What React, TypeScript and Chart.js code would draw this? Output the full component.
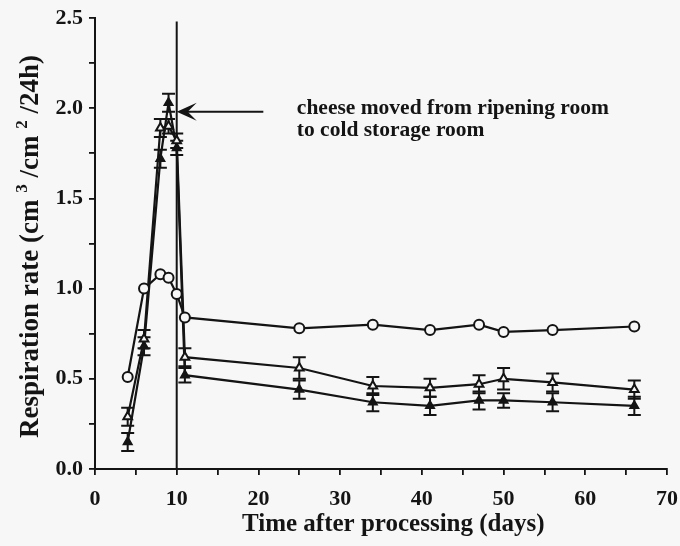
import React, { useEffect, useRef } from "react";
import { Chart, registerables } from "chart.js";

Chart.register(...registerables);

// ---- data ----
const days = [4, 6, 8, 9, 10, 11, 25, 34, 41, 47, 50, 56, 66];
const circleSeries = [0.51, 1.0, 1.08, 1.06, 0.97, 0.84, 0.78, 0.8, 0.77, 0.8, 0.76, 0.77, 0.79];
const openTriSeries = [0.29, 0.72, 1.89, 1.9, 1.82, 0.62, 0.56, 0.46, 0.45, 0.47, 0.5, 0.48, 0.44];
const openTriErr = [0.05, 0.05, 0.05, 0.04, 0.04, 0.05, 0.06, 0.05, 0.05, 0.05, 0.06, 0.05, 0.05];
const filledTriSeries = [0.15, 0.68, 1.72, 2.03, 1.78, 0.52, 0.44, 0.37, 0.35, 0.38, 0.38, 0.37, 0.35];
const filledTriErr = [0.05, 0.05, 0.05, 0.05, 0.04, 0.04, 0.05, 0.05, 0.05, 0.05, 0.04, 0.05, 0.05];

const xTickLabels = [0, 10, 20, 30, 40, 50, 60, 70];
const yTickLabels = [0.0, 0.5, 1.0, 1.5, 2.0, 2.5];

const transferDay = 10;
const transferLineTop = 2.48;
const annotationLines = ["cheese moved from ripening room", "to cold storage room"];
const arrowFrom = { x: 20.6, y: 1.98 };
const textAnchor = { x: 24.7, y: 2.0 };

const xTitle = "Time after processing (days)";
const xTitleCenterDay = 36.5;
// y title pieces: [text, isSuperscript]
const yTitleParts: [string, boolean][] = [
  ["Respiration rate (cm ", false],
  ["3", true],
  [" /cm ", false],
  ["2", true],
  [" /24h)", false],
];

const ink = "#141414";
const bg = "#f7f7f7";
const serif = "'Liberation Serif', 'DejaVu Serif', serif";

const overlayPlugin = {
  id: "overlay",
  beforeDraw(chart: any) {
    const { ctx, width, height } = chart;
    ctx.save();
    ctx.fillStyle = bg;
    ctx.fillRect(0, 0, width, height);
    ctx.restore();
  },
  beforeDatasetsDraw(chart: any) {
    const { ctx } = chart;
    const x = chart.scales.x;
    const y = chart.scales.y;
    ctx.save();
    ctx.strokeStyle = ink;
    ctx.lineWidth = 2;
    const vx = x.getPixelForValue(transferDay);
    ctx.beginPath();
    ctx.moveTo(vx, y.getPixelForValue(0));
    ctx.lineTo(vx, y.getPixelForValue(transferLineTop));
    ctx.stroke();

    const pairs: [number[], number[]][] = [
      [openTriSeries, openTriErr],
      [filledTriSeries, filledTriErr],
    ];
    pairs.forEach(([vals, errs]) => {
      vals.forEach((v, i) => {
        const px = x.getPixelForValue(days[i]);
        const top = y.getPixelForValue(v + errs[i]);
        const bot = y.getPixelForValue(v - errs[i]);
        ctx.beginPath();
        ctx.moveTo(px, top);
        ctx.lineTo(px, bot);
        ctx.moveTo(px - 6.5, top);
        ctx.lineTo(px + 6.5, top);
        ctx.moveTo(px - 6.5, bot);
        ctx.lineTo(px + 6.5, bot);
        ctx.stroke();
      });
    });
    ctx.restore();
  },
  afterDatasetsDraw(chart: any) {
    const { ctx, chartArea } = chart;
    const x = chart.scales.x;
    const y = chart.scales.y;
    ctx.save();
    ctx.strokeStyle = ink;
    ctx.fillStyle = ink;
    ctx.lineWidth = 2;
    const tipX = x.getPixelForValue(transferDay);
    const tipY = y.getPixelForValue(arrowFrom.y);
    const startX = x.getPixelForValue(arrowFrom.x);
    ctx.beginPath();
    ctx.moveTo(startX, tipY);
    ctx.lineTo(tipX + 8, tipY);
    ctx.stroke();
    ctx.beginPath();
    ctx.moveTo(tipX, tipY);
    ctx.lineTo(tipX + 20, tipY - 9);
    ctx.lineTo(tipX + 11, tipY);
    ctx.lineTo(tipX + 20, tipY + 9);
    ctx.closePath();
    ctx.fill();

    // annotation
    ctx.font = `bold 21.5px ${serif}`;
    ctx.textAlign = "left";
    ctx.textBaseline = "middle";
    const tx = x.getPixelForValue(textAnchor.x);
    const ty = y.getPixelForValue(textAnchor.y);
    annotationLines.forEach((line, i) => {
      ctx.fillText(line, tx, ty + i * 22);
    });

    // x title
    ctx.font = `bold 25px ${serif}`;
    ctx.textAlign = "center";
    ctx.textBaseline = "middle";
    ctx.fillText(xTitle, x.getPixelForValue(xTitleCenterDay), chartArea.bottom + 56);

    // y title (rotated, with superscripts)
    const mainFont = `bold 27px ${serif}`;
    const supFont = `bold 17px ${serif}`;
    let total = 0;
    const widths = yTitleParts.map(([t, sup]) => {
      ctx.font = sup ? supFont : mainFont;
      const w = ctx.measureText(t).width;
      total += w;
      return w;
    });
    ctx.translate(chartArea.left - 64, (chartArea.top + chartArea.bottom) / 2 + 3);
    ctx.rotate(-Math.PI / 2);
    ctx.textAlign = "left";
    ctx.textBaseline = "middle";
    let cur = -total / 2;
    yTitleParts.forEach(([t, sup], i) => {
      ctx.font = sup ? supFont : mainFont;
      ctx.fillText(t, cur, sup ? -8 : 0);
      cur += widths[i];
    });
    ctx.restore();
  },
};

export default function App() {
  const canvasRef = useRef<HTMLCanvasElement | null>(null);

  useEffect(() => {
    if (!canvasRef.current) return;
    const toPoints = (vals: number[]) => vals.map((v, i) => ({ x: days[i], y: v }));
    const chart = new Chart(canvasRef.current, {
      type: "scatter",
      data: {
        datasets: [
          {
            label: "circles",
            data: toPoints(circleSeries),
            showLine: true,
            borderColor: ink,
            borderWidth: 2.2,
            pointStyle: "circle",
            pointRadius: 5,
            pointBackgroundColor: bg,
            pointBorderColor: ink,
            pointBorderWidth: 2,
          },
          {
            label: "open triangles",
            data: toPoints(openTriSeries),
            showLine: true,
            borderColor: ink,
            borderWidth: 2.2,
            pointStyle: "triangle",
            pointRadius: 5,
            pointBackgroundColor: bg,
            pointBorderColor: ink,
            pointBorderWidth: 2,
          },
          {
            label: "filled triangles",
            data: toPoints(filledTriSeries),
            showLine: true,
            borderColor: ink,
            borderWidth: 2.2,
            pointStyle: "triangle",
            pointRadius: 5,
            pointBackgroundColor: ink,
            pointBorderColor: ink,
            pointBorderWidth: 1.5,
          },
        ],
      },
      options: {
        animation: false,
        responsive: true,
        maintainAspectRatio: false,
        layout: { padding: { top: 18, right: 13, left: 0, bottom: 0 } },
        plugins: {
          legend: { display: false },
          tooltip: { enabled: false },
        },
        scales: {
          x: {
            type: "linear",
            min: 0,
            max: 70,
            afterFit: (s: any) => {
              s.height = 77;
              s.paddingRight = 0;
              s.paddingLeft = 0;
            },
            ticks: {
              stepSize: 5,
              color: ink,
              padding: 11,
              maxRotation: 0,
              autoSkip: false,
              font: { family: serif, size: 22, weight: "bold" },
              callback: (v: any) => (xTickLabels.includes(Number(v)) ? String(v) : ""),
            },
            grid: {
              display: true,
              drawOnChartArea: false,
              drawTicks: true,
              tickLength: 6,
              color: ink,
              lineWidth: 1.8,
            },
            border: { display: true, color: ink, width: 2 },
            title: { display: false },
          },
          y: {
            type: "linear",
            min: 0,
            max: 2.5,
            afterFit: (s: any) => {
              s.width = 95;
              s.paddingTop = 0;
              s.paddingBottom = 0;
            },
            ticks: {
              stepSize: 0.25,
              color: ink,
              padding: 6,
              autoSkip: false,
              font: { family: serif, size: 22, weight: "bold" },
              callback: (v: any) => {
                const n = Number(v);
                const hit = yTickLabels.find((t) => Math.abs(t - n) < 1e-6);
                return hit !== undefined ? hit.toFixed(1) : "";
              },
            },
            grid: {
              display: true,
              drawOnChartArea: false,
              drawTicks: true,
              tickLength: 6,
              color: ink,
              lineWidth: 1.8,
            },
            border: { display: true, color: ink, width: 2 },
            title: { display: false },
          },
        },
      },
      plugins: [overlayPlugin],
    } as any);
    return () => chart.destroy();
  }, []);

  return (
    <div style={{ position: "absolute", left: 0, top: 0, width: 680, height: 546, background: bg }}>
      <canvas ref={canvasRef} />
    </div>
  );
}
